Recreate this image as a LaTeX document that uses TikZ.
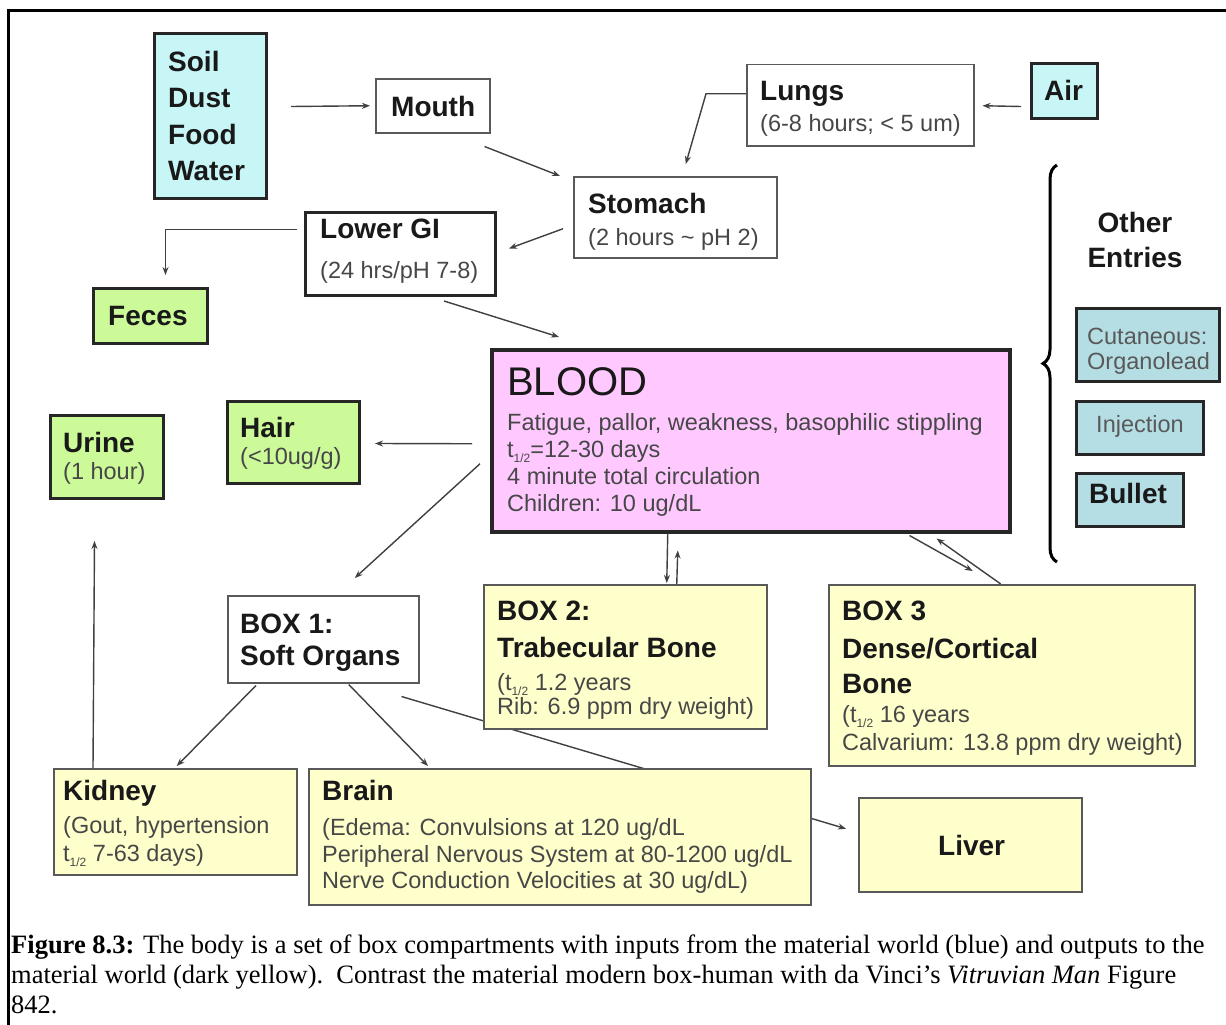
\documentclass[tikz,border=0pt]{standalone}
\usepackage{fontspec}
\setmainfont{Liberation Serif}
\newfontfamily\arialf{Liberation Sans}
\usetikzlibrary{arrows.meta,decorations.pathreplacing,calc}
\definecolor{cyanL}{RGB}{200,246,246}
\definecolor{tealL}{RGB}{180,222,228}
\definecolor{greenL}{RGB}{204,250,153}
\definecolor{yellowL}{RGB}{255,255,204}
\definecolor{pinkL}{RGB}{255,201,255}
\newcommand\myhalf{t\raisebox{-5pt}{\fontsize{12}{12}\selectfont 1/2}}
\begin{document}
\begin{tikzpicture}[x=1pt,y=-1pt,
 tbox/.style={draw=black!85, line width=3pt, inner sep=0pt, anchor=north west},
 nbox/.style={draw=black!65, line width=1.5pt, inner sep=0pt, anchor=north west},
 hd/.style={font=\arialf\bfseries\fontsize{28}{34}\selectfont, text=black!90, anchor=base west, inner sep=0pt},
 sb/.style={font=\arialf\fontsize{23.5}{28}\selectfont, text=black!72, anchor=base west, inner sep=0pt},
 arr/.style={draw=black!75, line width=1.4pt, -{Stealth[length=8pt,width=6pt]}},
 capt/.style={font=\fontsize{26.5}{30}\selectfont, anchor=base west, inner sep=0pt}
]
\useasboundingbox (0,0) rectangle (1226,1025);
\fill[white] (0,0) rectangle (1226,1025);
% frame
\draw[line width=3pt] (8.5,1025) -- (8.5,10.7) -- (1226,10.7);

% nodes drawn first (line passes behind others)
\node[nbox, fill=white, minimum width=191pt, minimum height=87pt] (box1) at (227,595) {};
\node[nbox, fill=yellowL, minimum width=223pt, minimum height=94pt] (liver) at (858,797) {};
\draw[arr] ([shift={(-18,13)}]box1.south east) -- ([shift={(-12,-16)}]liver.west);

% boxes
\node[tbox, fill=cyanL, minimum width=112pt, minimum height=165pt] (soil) at (153,32) {};
\node[nbox, fill=white, minimum width=114pt, minimum height=54pt] (mouth) at (375,78) {};
\node[nbox, fill=white, minimum width=227pt, minimum height=81pt] (lungs) at (746,64) {};
\node[tbox, fill=cyanL, minimum width=66pt, minimum height=55pt] (air) at (1030,62) {};
\node[nbox, fill=white, minimum width=203pt, minimum height=81pt] (stomach) at (573,176) {};
\node[tbox, fill=white, minimum width=190pt, minimum height=83pt] (lowergi) at (304,211) {};
\node[tbox, fill=greenL, minimum width=114pt, minimum height=55pt] (feces) at (92,287) {};
\node[tbox, line width=3.5pt, fill=pinkL, minimum width=518pt, minimum height=182pt] (blood) at (490,348) {};
\node[tbox, fill=greenL, minimum width=132pt, minimum height=82pt] (hair) at (226,400) {};
\node[tbox, fill=greenL, minimum width=113pt, minimum height=83pt] (urine) at (49,414) {};
\node[nbox, fill=yellowL, minimum width=283pt, minimum height=144pt] (box2) at (483,584) {};
\node[nbox, fill=yellowL, minimum width=366pt, minimum height=181pt] (box3) at (828,584) {};
\node[nbox, fill=yellowL, minimum width=243pt, minimum height=106pt] (kidney) at (53,768) {};
\node[nbox, fill=yellowL, minimum width=502pt, minimum height=136pt] (brain) at (308,768) {};
\node[tbox, fill=tealL, minimum width=143pt, minimum height=73pt] (cut) at (1075,307) {};
\node[tbox, fill=tealL, minimum width=127pt, minimum height=53pt] (inj) at (1075,400) {};
\node[tbox, fill=tealL, minimum width=107pt, minimum height=53pt] (bullet) at (1075,472) {};

% texts
\node[hd] (ts1) at (168,72) {Soil};
\node[hd] (ts2) at (168,107) {Dust};
\node[hd] (ts3) at (168,144) {Food};
\node[hd] (ts4) at (168,180) {Water};
\node[hd] (tmouth) at (391,116) {Mouth};
\node[hd] (tlungs) at (760,100) {Lungs};
\node[sb] (tlungs2) at (760,131) {(6-8 hours; < 5 um)};
\node[hd] (tair) at (1044,100) {Air};
\node[hd] (tstom) at (588,213) {Stomach};
\node[sb] (tstom2) at (588,245) {(2 hours \char"007E\ pH 2)};
\node[hd] (tlgi) at (320,238) {Lower GI};
\node[sb] (tlgi2) at (320,278) {(24 hrs/pH 7-8)};
\node[hd] (tfeces) at (108,325) {Feces};
\node[anchor=base west, inner sep=0pt, font=\arialf\fontsize{40}{40}\selectfont, text=black!90] (tblood) at (507,395) {BLOOD};
\node[sb] (tb1) at (507,430) {Fatigue, pallor, weakness, basophilic stippling};
\node[sb] (tb2) at (507,457) {\myhalf=12-30 days};
\node[sb] (tb3) at (507,484) {4 minute total circulation};
\node[sb] (tb4) at (507,511) {Children: 10 ug/dL};
\node[hd] (thair) at (240,437) {Hair};
\node[sb] (thair2) at (240,464) {(<10ug/g)};
\node[hd] (turine) at (63,452) {Urine};
\node[sb] (turine2) at (63,479) {(1 hour)};
\node[hd] (tbx1a) at (240,633) {BOX 1:};
\node[hd] (tbx1b) at (240,665) {Soft Organs};
\node[hd] (tbx2a) at (497,620) {BOX 2:};
\node[hd] (tbx2b) at (497,657) {Trabecular Bone};
\node[sb] (tbx2c) at (497,690) {(\myhalf\ 1.2 years};
\node[sb] (tbx2d) at (497,714) {Rib: 6.9 ppm dry weight)};
\node[hd] (tbx3a) at (842,620) {BOX 3};
\node[hd] (tbx3b) at (842,658) {Dense/Cortical};
\node[hd] (tbx3c) at (842,693) {Bone};
\node[sb] (tbx3d) at (842,722) {(\myhalf\ 16 years};
\node[sb] (tbx3e) at (842,750) {Calvarium: 13.8 ppm dry weight)};
\node[hd] (tkid) at (63,800) {Kidney};
\node[sb] (tkid2) at (63,833) {(Gout, hypertension};
\node[sb] (tkid3) at (63,861) {\myhalf\ 7-63 days)};
\node[hd] (tbrain) at (322,800) {Brain};
\node[sb] (tbr1) at (322,835) {(Edema: Convulsions at 120 ug/dL};
\node[sb] (tbr2) at (322,862) {Peripheral Nervous System at 80-1200 ug/dL};
\node[sb] (tbr3) at (322,888) {Nerve Conduction Velocities at 30 ug/dL)};
\node[hd] (tliver) at (938,855) {Liver};
\node[hd, anchor=base] (toth1) at (1135,232) {Other};
\node[hd, anchor=base] (toth2) at (1135,267) {Entries};
\node[sb, text=black!65] (tcut1) at (1087,344) {Cutaneous:};
\node[sb, text=black!65] (tcut2) at (1087,369) {Organolead};
\node[sb, text=black!65, anchor=base] (tinj) at (1140,432) {Injection};
\node[hd, anchor=base] (tbul) at (1128,503) {Bullet};

% brace
\draw[line width=3pt, decorate, decoration={brace, amplitude=14pt}] (1057,562) -- (1057,165);

% connectors
\draw[arr] ([shift={(23,-9.5)}]soil.east) -- ([shift={(-5,0)}]mouth.west);
\draw[arr] ([shift={(-6,13)}]mouth.south east) -- ([shift={(-13,0)}]stomach.north west);
\draw[arr] ([shift={(-9,15.5)}]air.west) -- ([shift={(8,0.5)}]lungs.east);
\draw[arr] ([shift={(0,-11.5)}]lungs.west) -- ++(-40,0) -- ([shift={(10.5,-12)}]stomach.north);
\draw[arr] ([shift={(-10,11.5)}]stomach.west) -- ([shift={(12,-5.5)}]lowergi.east);
\draw[arr] ([shift={(-7,-24.5)}]lowergi.west) -| ([shift={(15,-12)}]feces.north);
\draw[arr] ([shift={(-53,4)}]lowergi.south east) -- ([shift={(69,-11)}]blood.north west);
\draw[arr] ([shift={(-18,3)}]blood.west) -- ([shift={(14,1)}]hair.east);
\draw[arr] ([shift={(-10,23)}]blood.west) -- ([shift={(31.5,-17)}]box1.north);
\draw[arr] ([shift={(-83,0)}]blood.south) -- ([shift={(41.5,-1)}]box2.north);
\draw[arr] ([shift={(51.5,0)}]box2.north) -- ([shift={(-73,17)}]blood.south);
\draw[arr] ([shift={(-102,2)}]blood.south east) -- ([shift={(-39,-13)}]box3.north);
\draw[arr] ([shift={(-11,0)}]box3.north) -- ([shift={(-75,5)}]blood.south east);
\draw[arr] ([shift={(29,2)}]box1.south west) -- ([shift={(1.5,-2)}]kidney.north);
\draw[arr] ([shift={(25.5,1)}]box1.south) -- ([shift={(120,-2)}]brain.north west);
\draw[arr] ([shift={(40,0)}]kidney.north west) -- ([shift={(-12.5,41)}]urine.south);

% caption
\node[capt] (cap1) at (11,953) {\textbf{Figure 8.3:} The body is a set of box compartments with inputs from the material world (blue) and outputs to the};
\node[capt] (cap2) at (11,983) {material world (dark yellow).\ \ Contrast the material modern box-human with da Vinci’s \textit{Vitruvian Man} Figure};
\node[capt] (cap3) at (11,1013) {842.};
\end{tikzpicture}
\end{document}
